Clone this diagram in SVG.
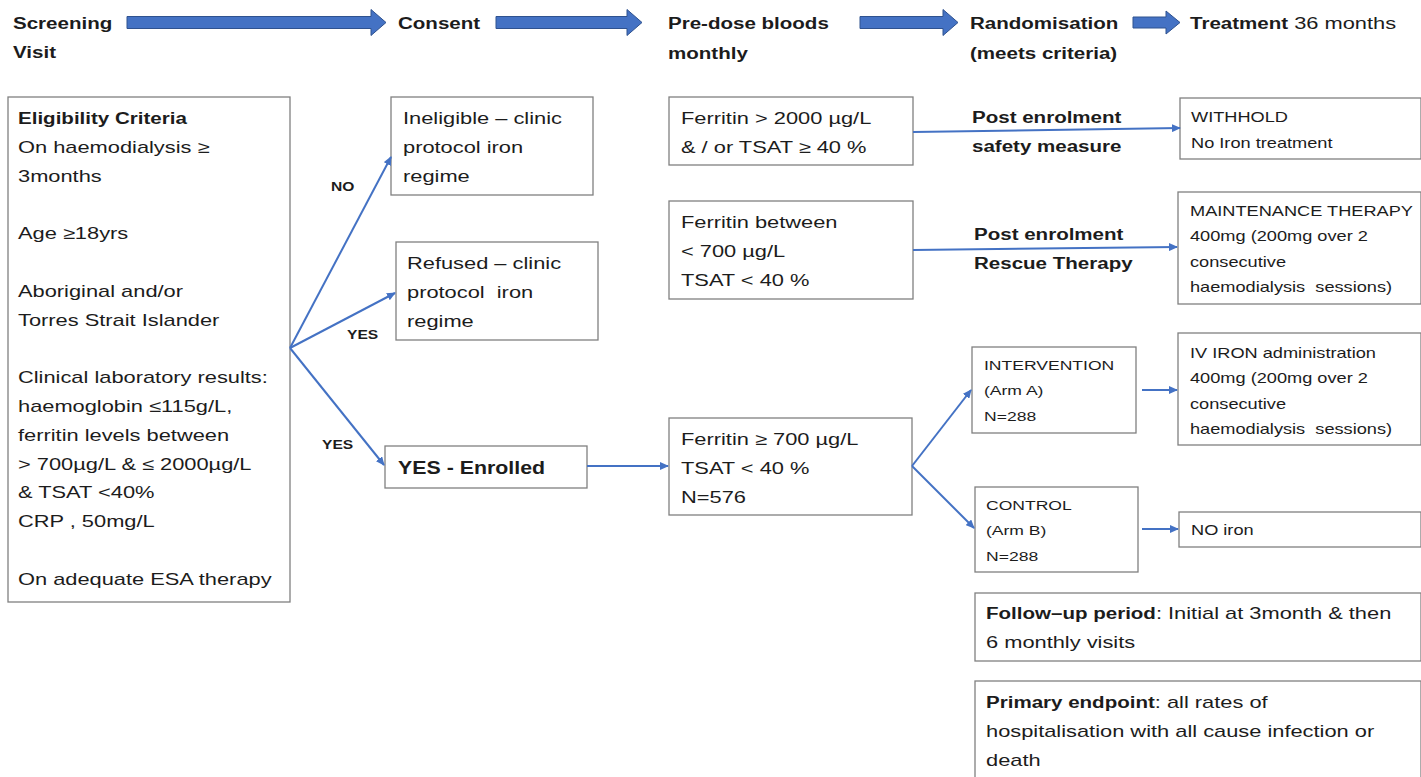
<svg xmlns="http://www.w3.org/2000/svg" width="1421" height="777" viewBox="0 0 1421 777">
<style>
.bg{fill:#ffffff}
.box{fill:#ffffff;stroke:#808080;stroke-width:1.3}
.t{font-family:"Liberation Sans",Arial,sans-serif;font-size:16.8px;fill:#1c1c1c}
.b{font-weight:bold;font-size:15.8px}
.s{font-size:14px}
.xs{font-size:13.5px}
.lbl{font-family:"Liberation Sans",Arial,sans-serif;font-size:12px;font-weight:bold;fill:#1c1c1c}
.big{font-size:17.5px;font-weight:bold}
.conn{stroke:#4472C4;stroke-width:2;fill:none;marker-end:url(#ah)}
.harrow{fill:#4472C4;stroke:#2F528F;stroke-width:1}
</style>
<defs>
<marker id="ah" markerUnits="userSpaceOnUse" markerWidth="9" markerHeight="8" refX="8" refY="4" orient="auto">
<path d="M0,0 L9,4 L0,8 z" fill="#4472C4"/>
</marker>
</defs>
<rect class="bg" x="0" y="0" width="1421" height="777"/>

<g id="header">
<polygon class="harrow" points="127,16.5 371,16.5 371,9.5 386,22.5 371,35.5 371,28.5 127,28.5"/>
<polygon class="harrow" points="496,16.5 627,16.5 627,9.5 642,22.5 627,35.5 627,28.5 496,28.5"/>
<polygon class="harrow" points="860,16.5 943,16.5 943,9.5 958,22.5 943,35.5 943,28.5 860,28.5"/>
<polygon class="harrow" points="1133,17 1166,17 1166,11 1180,22.5 1166,34 1166,28 1133,28"/>
<text class="t b" transform="matrix(1.3 0 0 1 13 29)">Screening<tspan x="0" dy="29">Visit</tspan></text>
<text class="t b" transform="matrix(1.3 0 0 1 398 29)">Consent</text>
<text class="t b" transform="matrix(1.3 0 0 1 668 29)">Pre-dose bloods<tspan x="0" dy="30">monthly</tspan></text>
<text class="t b" transform="matrix(1.3 0 0 1 970 29)">Randomisation<tspan x="0" dy="30">(meets criteria)</tspan></text>
<text class="t" transform="matrix(1.3 0 0 1 1190 29)"><tspan class="b">Treatment</tspan> 36 months</text>
</g>

<g id="eligibility">
<rect class="box" x="8" y="97" width="282" height="505"/>
<text class="t" transform="matrix(1.3 0 0 1 18 124)"><tspan class="b">Eligibility Criteria</tspan><tspan x="0" dy="28.8">On haemodialysis ≥</tspan><tspan x="0" dy="28.8">3months</tspan><tspan x="0" dy="57.6">Age ≥18yrs</tspan><tspan x="0" dy="57.6">Aboriginal and/or</tspan><tspan x="0" dy="28.8">Torres Strait Islander</tspan><tspan x="0" dy="57.6">Clinical laboratory results:</tspan><tspan x="0" dy="28.8">haemoglobin ≤115g/L,</tspan><tspan x="0" dy="28.8">ferritin levels between</tspan><tspan x="0" dy="28.8">&gt; 700µg/L &amp; ≤ 2000µg/L</tspan><tspan x="0" dy="28.8">&amp; TSAT &lt;40%</tspan><tspan x="0" dy="28.8">CRP , 50mg/L</tspan><tspan x="0" dy="57.6">On adequate ESA therapy</tspan></text>
</g>

<g id="ineligible">
<rect class="box" x="391" y="97" width="202" height="98"/>
<text class="t" transform="matrix(1.3 0 0 1 403 124)">Ineligible – clinic<tspan x="0" dy="29">protocol iron</tspan><tspan x="0" dy="29">regime</tspan></text>
</g>

<g id="refused">
<rect class="box" x="396" y="242" width="202" height="98"/>
<text class="t" transform="matrix(1.3 0 0 1 407 269)">Refused – clinic<tspan x="0" dy="29">protocol &#160;iron</tspan><tspan x="0" dy="29">regime</tspan></text>
</g>

<g id="enrolled">
<rect class="box" x="385" y="446" width="202" height="42"/>
<text class="t big" transform="matrix(1.22 0 0 1 398 474)">YES - Enrolled</text>
</g>

<g id="ferritin-high">
<rect class="box" x="669" y="97" width="244" height="68"/>
<text class="t" transform="matrix(1.3 0 0 1 681 124)">Ferritin &gt; 2000 µg/L<tspan x="0" dy="29">&amp; / or TSAT ≥ 40 %</tspan></text>
</g>

<g id="ferritin-low">
<rect class="box" x="669" y="201" width="244" height="98"/>
<text class="t" transform="matrix(1.3 0 0 1 681 228)">Ferritin between<tspan x="0" dy="29">&lt; 700 µg/L</tspan><tspan x="0" dy="29">TSAT &lt; 40 %</tspan></text>
</g>

<g id="ferritin-mid">
<rect class="box" x="669" y="418" width="243" height="97"/>
<text class="t" transform="matrix(1.3 0 0 1 681 445)">Ferritin ≥ 700 µg/L<tspan x="0" dy="29">TSAT &lt; 40 %</tspan><tspan x="0" dy="29">N=576</tspan></text>
</g>

<g id="safety-label">
<text class="t b" transform="matrix(1.3 0 0 1 972 123)">Post enrolment<tspan x="0" dy="29">safety measure</tspan></text>
</g>

<g id="rescue-label">
<text class="t b" transform="matrix(1.3 0 0 1 974 240)">Post enrolment<tspan x="0" dy="29">Rescue Therapy</tspan></text>
</g>

<g id="withhold">
<rect class="box" x="1180" y="98" width="241" height="61"/>
<text class="t s" transform="matrix(1.3 0 0 1 1191 122)">WITHHOLD<tspan x="0" dy="26">No Iron treatment</tspan></text>
</g>

<g id="maintenance">
<rect class="box" x="1178" y="192" width="243" height="112"/>
<text class="t s" transform="matrix(1.3 0 0 1 1190 216)">MAINTENANCE THERAPY<tspan x="0" dy="25.5">400mg (200mg over 2</tspan><tspan x="0" dy="25.5">consecutive</tspan><tspan x="0" dy="25.5">haemodialysis &#160;sessions)</tspan></text>
</g>

<g id="intervention">
<rect class="box" x="972" y="347" width="164" height="86"/>
<text class="t xs" transform="matrix(1.3 0 0 1 984 370)">INTERVENTION<tspan x="0" dy="25.5">(Arm A)</tspan><tspan x="0" dy="25.5">N=288</tspan></text>
</g>

<g id="iv-iron">
<rect class="box" x="1178" y="333" width="243" height="112"/>
<text class="t s" transform="matrix(1.3 0 0 1 1190 358)">IV IRON administration<tspan x="0" dy="25.5">400mg (200mg over 2</tspan><tspan x="0" dy="25.5">consecutive</tspan><tspan x="0" dy="25.5">haemodialysis &#160;sessions)</tspan></text>
</g>

<g id="control">
<rect class="box" x="975" y="487" width="163" height="85"/>
<text class="t xs" transform="matrix(1.3 0 0 1 986 510)">CONTROL<tspan x="0" dy="25.5">(Arm B)</tspan><tspan x="0" dy="25.5">N=288</tspan></text>
</g>

<g id="no-iron">
<rect class="box" x="1179" y="512" width="242" height="35"/>
<text class="t s" transform="matrix(1.3 0 0 1 1191 535)">NO iron</text>
</g>

<g id="follow-up">
<rect class="box" x="975" y="593" width="446" height="68"/>
<text class="t" transform="matrix(1.3 0 0 1 986 619)"><tspan class="b">Follow–up period</tspan>: Initial at 3month &amp; then<tspan x="0" dy="29">6 monthly visits</tspan></text>
</g>

<g id="primary-endpoint">
<rect class="box" x="975" y="681" width="446" height="110"/>
<text class="t" transform="matrix(1.3 0 0 1 986 708)"><tspan class="b">Primary endpoint</tspan>: all rates of<tspan x="0" dy="29">hospitalisation with all cause infection or</tspan><tspan x="0" dy="29">death</tspan></text>
</g>

<g id="connectors">
<path class="conn" d="M290,348 L391,157"/>
<path class="conn" d="M290,348 L395,293"/>
<path class="conn" d="M290,348 L384,465"/>
<path class="conn" d="M587,466 L668,466"/>
<path class="conn" d="M913,132 L1180,128"/>
<path class="conn" d="M913,250 L1177,247"/>
<path class="conn" d="M912,466 L971,390"/>
<path class="conn" d="M912,466 L974,528"/>
<path class="conn" d="M1142,390 L1177,390"/>
<path class="conn" d="M1142,529 L1178,529"/>
<text class="lbl" transform="matrix(1.3 0 0 1 331 191)">NO</text>
<text class="lbl" transform="matrix(1.3 0 0 1 347 339)">YES</text>
<text class="lbl" transform="matrix(1.3 0 0 1 322 449)">YES</text>
</g>
</svg>
